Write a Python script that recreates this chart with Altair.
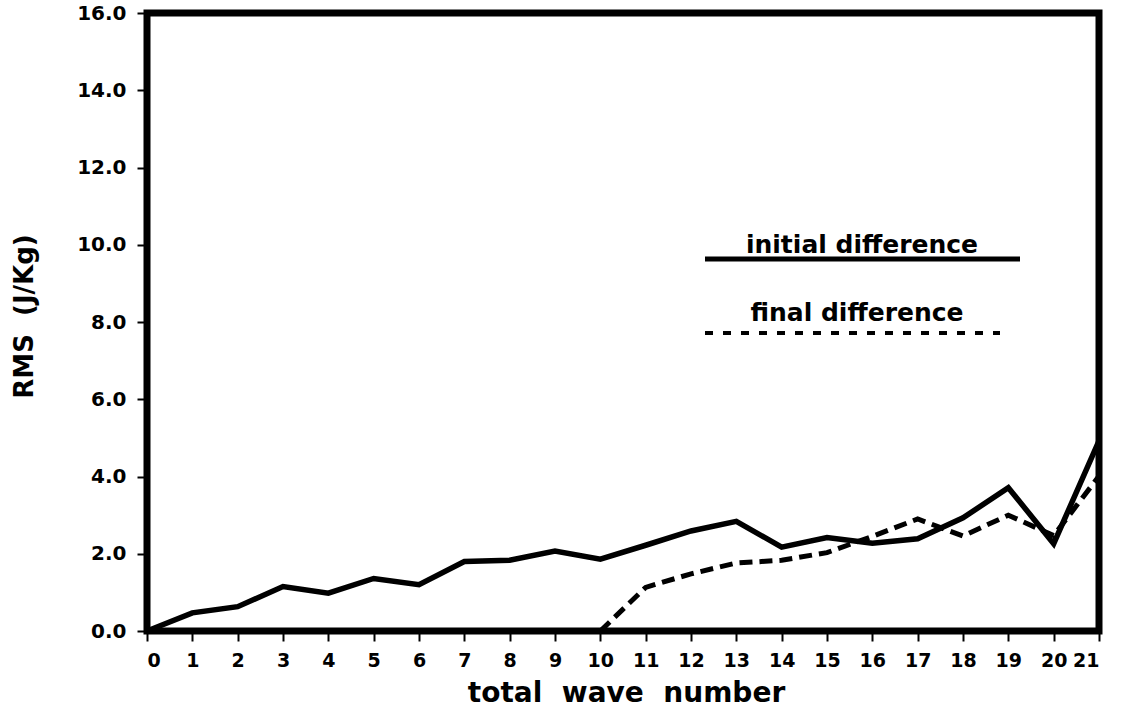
import altair as alt
import pandas as pd

# RMS difference per total wave number
wave_number = list(range(22))
initial_diff = [0.0, 0.47, 0.63, 1.15, 0.98, 1.36, 1.20, 1.80, 1.83, 2.07, 1.86,
                2.22, 2.59, 2.84, 2.17, 2.42, 2.27, 2.39, 2.93, 3.71, 2.26, 4.92]
final_diff = [None] * 10 + [0.0, 1.13, 1.48, 1.76, 1.83, 2.03, 2.45, 2.90,
                            2.46, 3.00, 2.47, 4.01]

y_ticks = [0, 2, 4, 6, 8, 10, 12, 14, 16]
series_names = ["initial difference", "final difference"]

FONT = "DejaVu Sans"
NB = "\u00a0"

df = pd.DataFrame({"wave": wave_number, "initial": initial_diff, "final": final_diff})

x_enc = alt.X(
    "wave:Q",
    scale=alt.Scale(domain=[0, 21], nice=False, zero=False),
    axis=alt.Axis(
        values=wave_number, format="d",
        title=f"total {NB}wave {NB}number",
        titleFontSize=28, titleX=479, titleY=62,
        titleAlign="center", titleBaseline="middle",
        labelPadding=10, labelFontSize=19,
    ),
)


def y_enc(field):
    return alt.Y(
        f"{field}:Q",
        scale=alt.Scale(domain=[0, 16], nice=False),
        axis=alt.Axis(
            values=y_ticks, format=".1f",
            title=f"RMS {NB}(J/Kg)",
            titleFontSize=26, titleX=-123, titleY=303,
            titleAlign="center", titleBaseline="middle", titleAngle=-90,
            labelPadding=11, labelFontSize=20,
        ),
    )


solid = alt.Chart(df).mark_line(
    color="black", strokeWidth=5.5, strokeJoin="miter"
).encode(x=x_enc, y=y_enc("initial"))

dashed = alt.Chart(df).transform_filter("isValid(datum.final)").mark_line(
    color="black", strokeWidth=5, strokeDash=[13, 7], strokeCap="butt"
).encode(x=x_enc, y=y_enc("final"))

# key drawn inside the plot: label centred over a sample of each line style
key_initial = pd.DataFrame({"series": [series_names[0]]})
key_final = pd.DataFrame({"series": [series_names[1]]})

key_line_initial = alt.Chart(key_initial).mark_rule(
    color="black", strokeWidth=5
).encode(x=alt.value(558), x2=alt.value(873), y=alt.value(246))

key_line_final = alt.Chart(key_final).mark_rule(
    color="black", strokeWidth=4, strokeDash=[8, 10]
).encode(x=alt.value(558), x2=alt.value(853), y=alt.value(320))

key_text_initial = alt.Chart(key_initial).mark_text(
    font=FONT, fontSize=25, fontWeight="bold", color="black",
    align="center", baseline="alphabetic"
).encode(x=alt.value(715), y=alt.value(240), text="series:N")

key_text_final = alt.Chart(key_final).mark_text(
    font=FONT, fontSize=25, fontWeight="bold", color="black",
    align="center", baseline="alphabetic"
).encode(x=alt.value(710), y=alt.value(308), text="series:N")

chart = alt.layer(
    solid, dashed, key_line_initial, key_line_final, key_text_initial, key_text_final
).properties(
    width=952, height=618,
    padding={"left": 147, "top": 13, "right": 28, "bottom": 77},
    autosize=alt.AutoSizeParams(type="none"),
    background="white",
).configure_view(
    stroke="black", strokeWidth=7
).configure_axis(
    domain=False, grid=False,
    ticks=True, tickColor="black", tickWidth=2, tickSize=10,
    labelFont=FONT, labelFontWeight="bold", labelColor="black",
    titleFont=FONT, titleFontWeight="bold", titleColor="black",
)

chart.save("out.html", embed_options={"renderer": "svg", "actions": False})
